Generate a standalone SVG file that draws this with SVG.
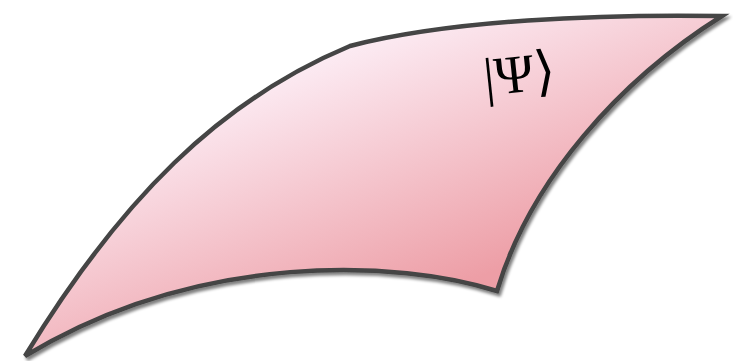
<svg xmlns="http://www.w3.org/2000/svg" width="733" height="361" viewBox="0 0 733 361">
<defs>
<linearGradient id="g" x1="320" y1="40" x2="420" y2="300" gradientUnits="userSpaceOnUse">
<stop offset="0" stop-color="#fdf0f8"/>
<stop offset="1" stop-color="#ed9ea6"/>
</linearGradient>
<filter id="sh" x="-10%" y="-10%" width="120%" height="120%">
<feGaussianBlur in="SourceAlpha" stdDeviation="1.5"/>
<feOffset dx="2" dy="3" result="b"/>
<feComponentTransfer><feFuncA type="linear" slope="0.5"/></feComponentTransfer>
<feMerge><feMergeNode/><feMergeNode in="SourceGraphic"/></feMerge>
</filter>
</defs>
<style>
.surf{fill:url(#g);stroke:#444;stroke-width:4.5;stroke-linejoin:miter}
.lbl{font-family:"Liberation Serif","DejaVu Serif",serif;font-size:54px;fill:#000}
</style>
<g id="surface">
<path class="surf" filter="url(#sh)" d="M 25,356 C 120,200 220,100 350,46 C 450,20 600,14 722,16 C 620,80 530,180 497,291 C 400,260 200,250 25,356 Z"/>
</g>
<g id="label">
<text class="lbl" x="520" y="92" text-anchor="middle" transform="rotate(-6 520 80)">|Ψ⟩</text>
</g>
</svg>
